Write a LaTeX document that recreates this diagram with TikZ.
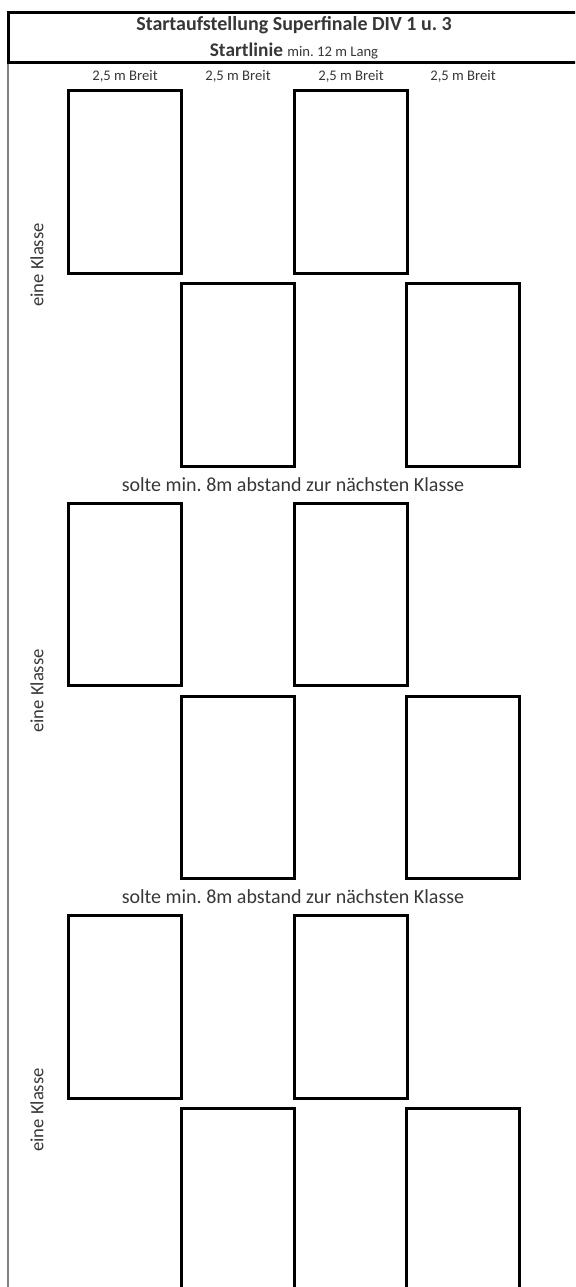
\documentclass[tikz,border=0pt]{standalone}
\usepackage{fontspec}
\setmainfont{Carlito}
\usepackage{tikz}
\usetikzlibrary{positioning}
\definecolor{inkgray}{RGB}{55, 55, 55}
\definecolor{edgegray}{RGB}{130, 130, 130}
\frenchspacing

\begin{document}
\begin{tikzpicture}[x=0.75pt, y=-0.75pt,
    every node/.style={text=inkgray, inner sep=0pt},
    slot/.style={draw=black, line width=2.25pt, minimum width=84.75pt, minimum height=137pt},
    bigtext/.style={font=\fontsize{15}{18}\selectfont},
    smalltext/.style={font=\fontsize{11}{13}\selectfont}]
        % page frame
        \clip (0,0) rectangle (575,1287);
        \draw[line width=2.25pt] (8,13) rectangle (590,63);
        \draw[edgegray, line width=1.5pt] (8,64) -- (8,1290);
        % Header
        \node[bigtext, font=\bfseries\fontsize{15}{18}\selectfont] (title) at (294,25)
          {Startaufstellung Superfinale DIV 1 u. 3};
        \node (startlinie) at (294,51)
          {\fontsize{14.5}{17}\selectfont\bfseries Startlinie
           {\mdseries\fontsize{11}{13}\selectfont min. 12 m Lang}};
        % Lane widths
        \foreach \c/\x in {1/125, 2/238, 3/351, 4/463}{
          \node[smalltext] (breit\c) at (\x,76) {2,5 m Breit};
        }
        % Classes
        \foreach \g/\dy/\ky in {1/0/265, 2/412.5/691, 3/825/1110}{
          \node[slot] (topA\g) at (125,{182+\dy}) {};
          \node[slot] (topB\g) at (351,{182+\dy}) {};
          \node[slot] (lowA\g) at (238,{375+\dy}) {};
          \node[slot] (lowB\g) at (463,{375+\dy}) {};
          \node[bigtext, font=\fontsize{14}{17}\selectfont, rotate=90] (klasse\g) at (37,\ky) {eine Klasse};
        }
        % Gaps between classes
        \node[bigtext] (abstand1) at (293,485) {solte min. 8m abstand zur nächsten Klasse};
        \node[bigtext] (abstand2) at (293,897) {solte min. 8m abstand zur nächsten Klasse};
      \end{tikzpicture}
\end{document}
